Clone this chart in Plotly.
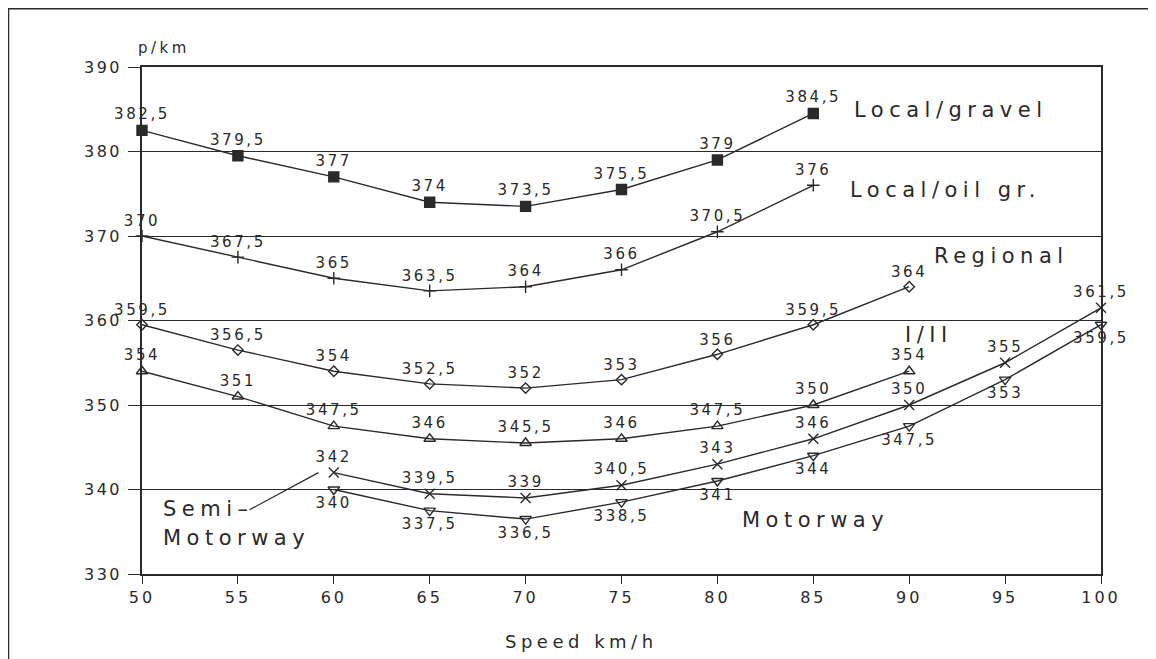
import plotly.graph_objects as go

# ---- data ----
speed = [50, 55, 60, 65, 70, 75, 80, 85, 90, 95, 100]
local_gravel = [382.5, 379.5, 377, 374, 373.5, 375.5, 379, 384.5]
local_oil = [370, 367.5, 365, 363.5, 364, 366, 370.5, 376]
regional = [359.5, 356.5, 354, 352.5, 352, 353, 356, 359.5, 364]
class_1_2 = [354, 351, 347.5, 346, 345.5, 346, 347.5, 350, 354]
semi_motorway = [342, 339.5, 339, 340.5, 343, 346, 350, 355, 361.5]
motorway = [340, 337.5, 336.5, 338.5, 341, 344, 347.5, 353, 359.5]
y_ticks = [330, 340, 350, 360, 370, 380, 390]
x_ticks = [50, 55, 60, 65, 70, 75, 80, 85, 90, 95, 100]

FONT = "DejaVu Sans"
INK = "#2a2a2a"


def sp(t, ls):
    return '<span style="letter-spacing:%spx">%s</span>' % (ls, t)


def lab(v):
    return sp(("%g" % v).replace(".", ","), 2.6)


series = [
    ("Local/gravel", speed[:8], local_gravel, "square", 10, "top center"),
    ("Local/oil gr.", speed[:8], local_oil, "cross-thin", 9, "top center"),
    ("Regional", speed[:9], regional, "diamond-open", 8, "top center"),
    ("I/II", speed[:9], class_1_2, "triangle-up-open", 10, "top center"),
    ("Semi-Motorway", speed[2:], semi_motorway, "x-thin", 10, "top center"),
    ("Motorway", speed[2:], motorway, "triangle-down-open", 10, "bottom center"),
]

fig = go.Figure()
for name, xs, ys, sym, size, tpos in series:
    fig.add_trace(go.Scatter(
        x=xs, y=ys, name=name, mode="lines+markers+text",
        text=[lab(v) for v in ys], textposition=tpos,
        textfont=dict(family=FONT, size=15, color=INK),
        line=dict(color=INK, width=1.4),
        marker=dict(symbol=sym, size=size, color=INK,
                    line=dict(color=INK, width=1.4)),
        cliponaxis=False, showlegend=False,
    ))

# series names
names = [
    ("Local/gravel", 87.0, 384.9),
    ("Local/oil gr.", 86.8, 375.4),
    ("Regional", 91.2, 367.6),
    ("I/II", 89.7, 358.3),
    ("Semi\u2013", 51.0, 337.7),
    ("Motorway", 51.0, 334.3),
    ("Motorway", 81.2, 336.4),
]
for t, x, y in names:
    fig.add_annotation(x=x, y=y, text=sp(t, 5.5), showarrow=False,
                       xanchor="left", yanchor="middle", align="left",
                       font=dict(family=FONT, size=21, color=INK))

# leader line for Semi-Motorway
fig.add_shape(type="line", x0=55.6, y0=337.6, x1=59.2, y1=342.0,
              line=dict(color=INK, width=1.2))

# page is offset by the 8px body margin; plot area: fx 134..1093, fy 59..566
L, T, W, H = 134, 59, 959, 507
B = T + H


def px(fx):
    return (fx - L) / W


def py(fy):
    return (B - fy) / H


# outer page frame
fig.add_shape(type="rect", xref="paper", yref="paper",
              x0=px(0.5), x1=px(1145), y0=py(700), y1=py(0.8),
              line=dict(color=INK, width=1.5), layer="below")

fig.add_annotation(xref="paper", yref="paper", x=px(156), y=py(40),
                   xanchor="center", yanchor="middle",
                   text=sp("p/km", 3.5), showarrow=False,
                   font=dict(family=FONT, size=15, color=INK))
fig.add_annotation(xref="paper", yref="paper", x=px(573), y=py(633),
                   xanchor="center", yanchor="middle",
                   text=sp("Speed km/h", 4.5), showarrow=False,
                   font=dict(family=FONT, size=18, color=INK))

fig.update_layout(
    width=1148, height=651,
    margin=dict(l=L, r=1148 - L - W, t=T, b=651 - B),
    paper_bgcolor="white", plot_bgcolor="white",
    font=dict(family=FONT, color=INK),
    xaxis=dict(range=[50, 100], tickvals=x_ticks,
               ticktext=[sp(str(v), 3) for v in x_ticks], showgrid=False,
               zeroline=False, ticks="outside", ticklen=8, tickwidth=1.4,
               tickcolor=INK, showline=True, mirror=True, linecolor=INK,
               linewidth=1.5,
               tickfont=dict(family=FONT, size=16, color=INK)),
    yaxis=dict(range=[330, 390], tickvals=y_ticks,
               ticktext=[sp(str(v), 2.5) for v in y_ticks], showgrid=True,
               gridcolor=INK, gridwidth=1.3, zeroline=False,
               ticks="outside", ticklen=12, tickwidth=1.3, tickcolor=INK,
               ticklabelstandoff=3,
               showline=True, mirror=True, linecolor=INK, linewidth=1.5,
               tickfont=dict(family=FONT, size=16, color=INK)),
)

fig.write_html("out.html")
